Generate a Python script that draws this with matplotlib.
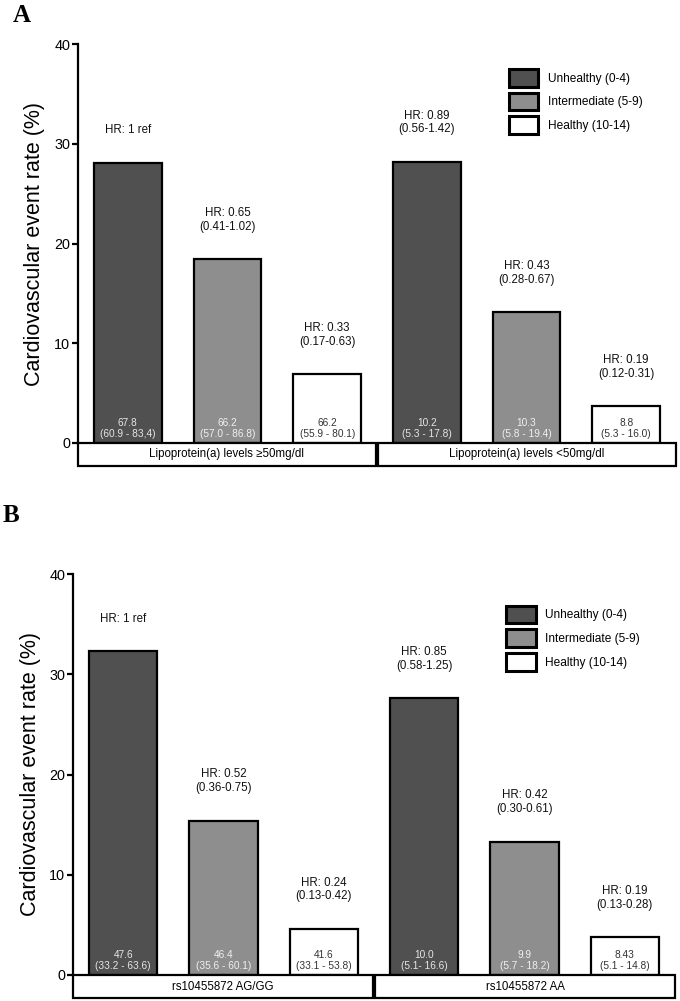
import matplotlib
matplotlib.use("Agg")
import matplotlib.pyplot as plt
from matplotlib.patches import Rectangle

plt.rcParams['font.family'] = ['Liberation Sans', 'DejaVu Sans']

# categories (lifestyle score)
categories = ["Unhealthy (0-4)", "Intermediate (5-9)", "Healthy (10-14)"]

# panel A
groups_a = ["Lipoprotein(a) levels \u226550mg/dl", "Lipoprotein(a) levels <50mg/dl"]
rates_a = [28.1, 18.4, 6.9, 28.2, 13.1, 3.7]
hr_a = ["HR: 1 ref", "HR: 0.65\n(0.41-1.02)", "HR: 0.33\n(0.17-0.63)",
        "HR: 0.89\n(0.56-1.42)", "HR: 0.43\n(0.28-0.67)", "HR: 0.19\n(0.12-0.31)"]
inner_a = ["67.8\n(60.9 - 83,4)", "66.2\n(57.0 - 86.8)", "66.2\n(55.9 - 80.1)",
           "10.2\n(5.3 - 17.8)", "10.3\n(5.8 - 19.4)", "8.8\n(5.3 - 16.0)"]

# panel B
groups_b = ["rs10455872 AG/GG", "rs10455872 AA"]
rates_b = [32.3, 15.4, 4.6, 27.6, 13.3, 3.8]
hr_b = ["HR: 1 ref", "HR: 0.52\n(0.36-0.75)", "HR: 0.24\n(0.13-0.42)",
        "HR: 0.85\n(0.58-1.25)", "HR: 0.42\n(0.30-0.61)", "HR: 0.19\n(0.13-0.28)"]
inner_b = ["47.6\n(33.2 - 63.6)", "46.4\n(35.6 - 60.1)", "41.6\n(33.1 - 53.8)",
           "10.0\n(5.1- 16.6)", "9.9\n(5.7 - 18.2)", "8.43\n(5.1 - 14.8)"]

yticks = [0, 10, 20, 30, 40]

colors = ["#505050", "#8e8e8e", "#ffffff"]
inner_colors = ["#e6e6e6", "#f0f0f0", "#333333"]


def draw_panel(ax, groups, rates, hr, inner, legend_xy):
    n = len(categories)
    for k, cat in enumerate(categories):
        xs = [g * n + k for g in range(len(groups))]
        hs = rates[k::n]
        ax.bar(xs, hs, width=0.68, color=colors[k], edgecolor="black",
               linewidth=1.6, label=cat, zorder=2)
    for i, r in enumerate(rates):
        ax.annotate(hr[i], (i, r), xytext=(0, 19), textcoords="offset points",
                    ha="center", va="bottom", fontsize=8.3, color="#111111")
        ax.annotate(inner[i], (i, 0), xytext=(0, 3), textcoords="offset points",
                    ha="center", va="bottom", fontsize=7.3,
                    color=inner_colors[i % n], linespacing=1.1, zorder=3)

    # group label boxes under the axis
    gap = 0.012
    for g, lab in enumerate(groups):
        x0 = g * n - 0.5 + (gap if g > 0 else 0)
        x1 = g * n + n - 0.5 - (gap if g < len(groups) - 1 else 0)
        ax.add_patch(Rectangle((x0, -2.3), x1 - x0, 2.3, facecolor="white",
                               edgecolor="black", linewidth=1.6, clip_on=False, zorder=4))
        ax.text((x0 + x1) / 2, -1.15, lab, ha="center", va="center", fontsize=8.3, zorder=5)

    ax.set_xlim(-0.5, len(rates) - 0.5)
    ax.set_ylim(0, 40)
    ax.set_yticks(yticks)
    ax.set_xticks([])
    for s in ["top", "right", "bottom"]:
        ax.spines[s].set_visible(False)
    ax.spines["left"].set_linewidth(1.6)
    ax.tick_params(axis="y", length=4, width=1.6, pad=1.5, labelsize=10.4)
    ax.set_ylabel("Cardiovascular event rate (%)", fontsize=15.5)
    leg = ax.legend(loc="upper left", bbox_to_anchor=legend_xy, frameon=False,
                    borderpad=0, borderaxespad=0, fontsize=8.6, handlelength=2.5,
                    handleheight=1.9, labelspacing=0.5, handletextpad=0.8)
    for p in leg.get_patches():
        p.set_linewidth(2.2)


fig = plt.figure(figsize=(6.8, 10.01), dpi=100)
ax_a = fig.add_axes([78 / 680, 1 - 443 / 1001, 598 / 680, 399 / 1001])
ax_b = fig.add_axes([73 / 680, 1 - 975 / 1001, 602 / 680, 401 / 1001])

draw_panel(ax_a, groups_a, rates_a, hr_a, inner_a, (0.72, 0.937))
draw_panel(ax_b, groups_b, rates_b, hr_b, inner_b, (0.719, 0.921))
ax_a.yaxis.set_label_coords(-33 / 598, 0.5)
ax_b.yaxis.set_label_coords(-32 / 602, 0.5)

fig.text(13 / 680, 1 - 4 / 1001, "A", ha="left", va="top", fontsize=18,
         fontweight="bold", family="Liberation Serif")
fig.text(3 / 680, 1 - 504 / 1001, "B", ha="left", va="top", fontsize=18,
         fontweight="bold", family="Liberation Serif")

fig.savefig("out.png", dpi=100)
